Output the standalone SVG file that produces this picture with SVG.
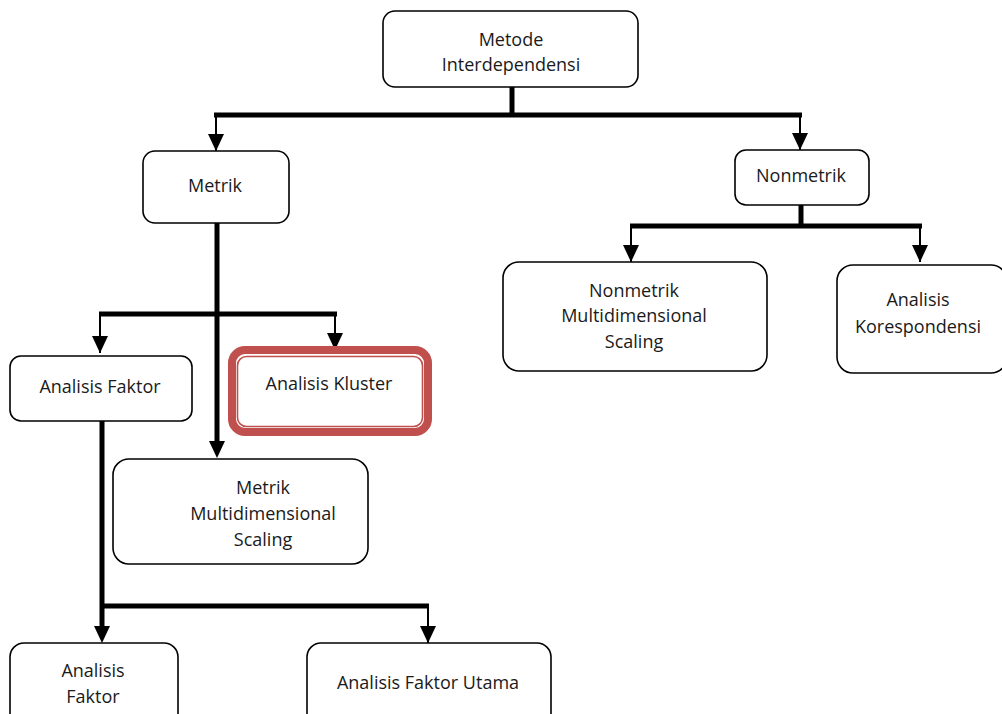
<svg xmlns="http://www.w3.org/2000/svg" width="1002" height="714" viewBox="0 0 1002 714">
<style>
.box{fill:#fff;stroke:#000;stroke-width:1.6}
.t{font-family:"Open Sans","Liberation Sans",sans-serif;font-size:18px;fill:#1a1a1a;text-anchor:middle}
.thick{stroke:#000;stroke-width:5;fill:none}
.thin{stroke:#000;stroke-width:2;fill:none}
</style>
<defs>
<marker id="ah" viewBox="0 0 17 16" refX="17" refY="8" markerWidth="17" markerHeight="16" markerUnits="userSpaceOnUse" orient="auto">
<path d="M0,0 L17,8 L0,16 Z" fill="#000"/>
</marker>
</defs>
<rect width="1002" height="714" fill="#fff"/>
<g id="connectors">
<line class="thick" x1="512" y1="87" x2="512" y2="115"/>
<line class="thick" x1="214" y1="115" x2="802" y2="115"/>
<path class="thin" d="M216,115 V151" marker-end="url(#ah)"/>
<path class="thin" d="M800,115 V150" marker-end="url(#ah)"/>
<line class="thick" x1="801" y1="205" x2="801" y2="226"/>
<line class="thick" x1="630" y1="226" x2="922" y2="226"/>
<path class="thin" d="M631,226 V262" marker-end="url(#ah)"/>
<path class="thin" d="M920,226 V262" marker-end="url(#ah)"/>
<path class="thick" d="M217,223 V441"/>
<path d="M209,441 L225,441 L217,458 Z" fill="#000"/>
<line class="thick" x1="99" y1="314" x2="337" y2="314"/>
<path class="thin" d="M100,314 V353" marker-end="url(#ah)"/>
<path class="thin" d="M335,314 V350" marker-end="url(#ah)"/>
<path class="thick" d="M102,421 V626"/>
<path d="M94,626 L110,626 L102,643 Z" fill="#000"/>
<line class="thick" x1="100" y1="606" x2="429" y2="606"/>
<path class="thin" d="M428,606 V643" marker-end="url(#ah)"/>
</g>
<g id="n-metode">
<rect class="box" x="383" y="11" width="255" height="76" rx="12"/>
<text class="t" x="511" y="46">Metode</text>
<text class="t" x="511" y="71">Interdependensi</text>
</g>
<g id="n-metrik">
<rect class="box" x="143" y="151" width="146" height="72" rx="12"/>
<text class="t" x="215" y="192">Metrik</text>
</g>
<g id="n-nonmetrik">
<rect class="box" x="735" y="150" width="134" height="55" rx="11"/>
<text class="t" x="801" y="182">Nonmetrik</text>
</g>
<g id="n-nonmetrik-mds">
<rect class="box" x="503" y="262" width="264" height="109" rx="16"/>
<text class="t" x="634" y="297">Nonmetrik</text>
<text class="t" x="634" y="322">Multidimensional</text>
<text class="t" x="634" y="348">Scaling</text>
</g>
<g id="n-korespondensi">
<rect class="box" x="837" y="265" width="170" height="108" rx="16"/>
<text class="t" x="918" y="306">Analisis</text>
<text class="t" x="918" y="333">Korespondensi</text>
</g>
<g id="n-faktor">
<rect class="box" x="10" y="356" width="182" height="65" rx="11"/>
<text class="t" x="100" y="393">Analisis Faktor</text>
</g>
<g id="n-kluster">
<rect x="232" y="350" width="196" height="82" rx="13" fill="#fff" stroke="#c0504d" stroke-width="8"/>
<rect x="237.5" y="356.5" width="185" height="70" rx="9" fill="none" stroke="#c0504d" stroke-width="1.6"/>
<text class="t" x="329" y="390">Analisis Kluster</text>
</g>
<g id="n-metrik-mds">
<rect class="box" x="113" y="459" width="255" height="105" rx="16"/>
<text class="t" x="263" y="494">Metrik</text>
<text class="t" x="263" y="520">Multidimensional</text>
<text class="t" x="263" y="546">Scaling</text>
</g>
<g id="n-analisis-faktor">
<rect class="box" x="10" y="643" width="168" height="90" rx="14"/>
<text class="t" x="93" y="677">Analisis</text>
<text class="t" x="93" y="703">Faktor</text>
</g>
<g id="n-faktor-utama">
<rect class="box" x="307" y="643" width="244" height="90" rx="14"/>
<text class="t" x="428" y="689">Analisis Faktor Utama</text>
</g>
</svg>
